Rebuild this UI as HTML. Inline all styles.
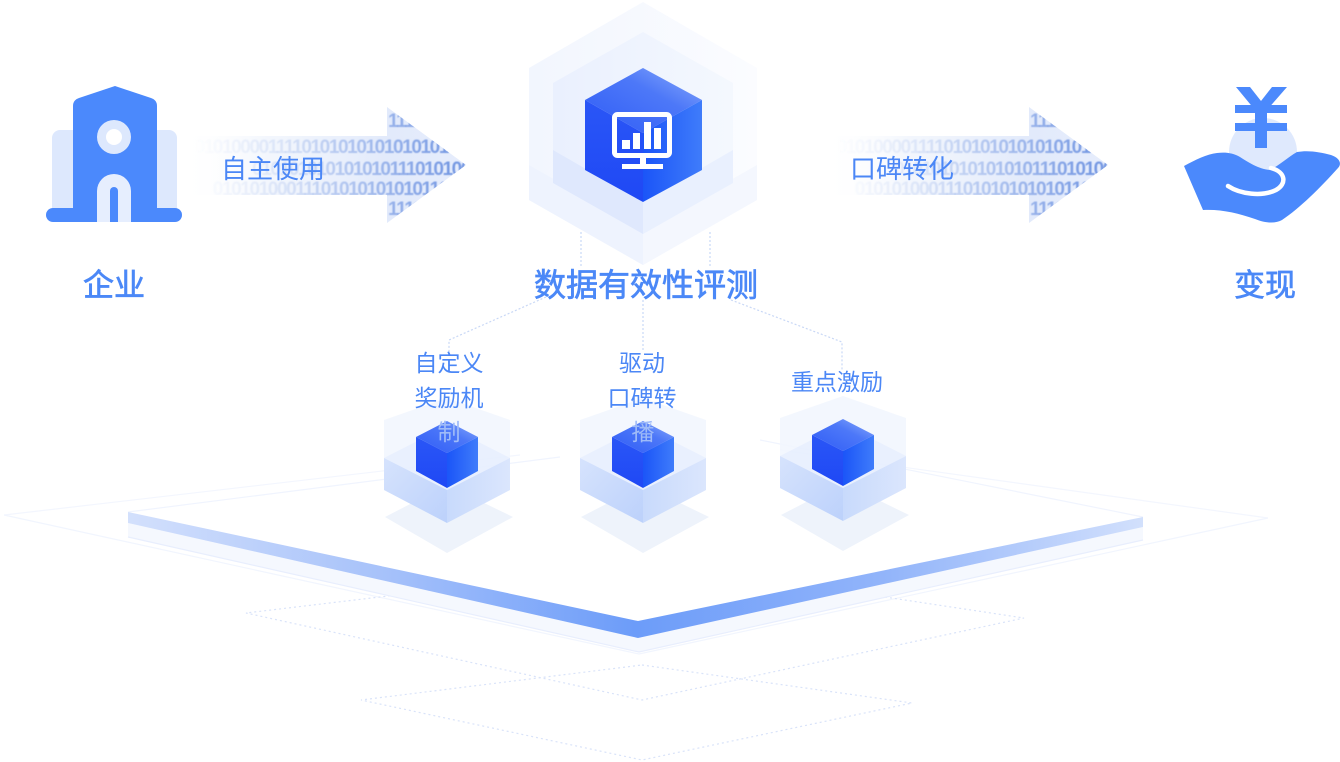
<!DOCTYPE html>
<html><head><meta charset="utf-8">
<style>
html,body{margin:0;padding:0;background:#fff;width:1340px;height:762px;overflow:hidden}
svg{display:block}
text{font-family:"Liberation Sans","Noto Sans CJK SC",sans-serif}
</style></head>
<body>
<svg width="1340" height="762" viewBox="0 0 1340 762" xmlns="http://www.w3.org/2000/svg">
<defs>
  <linearGradient id="barG" gradientUnits="userSpaceOnUse" x1="128" y1="0" x2="1143" y2="0">
    <stop offset="0" stop-color="#d3e0fc"/>
    <stop offset="0.25" stop-color="#a7c2fa"/>
    <stop offset="0.5" stop-color="#6c9cf9"/>
    <stop offset="0.75" stop-color="#93b5fa"/>
    <stop offset="1" stop-color="#d2e0fc"/>
  </linearGradient>
  <linearGradient id="arBg" gradientUnits="userSpaceOnUse" x1="180" y1="0" x2="466" y2="0">
    <stop offset="0" stop-color="#ffffff" stop-opacity="0"/>
    <stop offset="0.3" stop-color="#eef3fc" stop-opacity="0.7"/>
    <stop offset="0.72" stop-color="#e2eafb"/>
    <stop offset="1" stop-color="#e6edfc"/>
  </linearGradient>
  <linearGradient id="digG" gradientUnits="userSpaceOnUse" x1="195" y1="0" x2="450" y2="0">
    <stop offset="0" stop-color="#6a90e0" stop-opacity="0"/>
    <stop offset="0.35" stop-color="#6a90e0" stop-opacity="0.18"/>
    <stop offset="0.7" stop-color="#6a90e0" stop-opacity="0.55"/>
    <stop offset="1" stop-color="#6a90e0" stop-opacity="0.9"/>
  </linearGradient>
  <clipPath id="arClip">
    <polygon points="180,136 387,136 387,107 466,165 387,223 387,195 180,195"/>
  </clipPath>
  <filter id="blur" x="-5%" y="-10%" width="110%" height="120%">
    <feGaussianBlur stdDeviation="0.6"/>
  </filter>
  <linearGradient id="outerHex" x1="0" y1="0" x2="1" y2="0">
    <stop offset="0" stop-color="#f2f6fe"/>
    <stop offset="1" stop-color="#fbfcff"/>
  </linearGradient>
  <linearGradient id="midHex" x1="0" y1="0" x2="1" y2="0">
    <stop offset="0" stop-color="#eaf0fe"/>
    <stop offset="1" stop-color="#f4f8fe"/>
  </linearGradient>
  <linearGradient id="topF" x1="0" y1="1" x2="1" y2="0">
    <stop offset="0" stop-color="#2f5cf6"/>
    <stop offset="0.6" stop-color="#4d78f8"/>
    <stop offset="1" stop-color="#8eaefb"/>
  </linearGradient>
  <linearGradient id="leftF" x1="0" y1="0" x2="0" y2="1">
    <stop offset="0" stop-color="#2a56f6"/>
    <stop offset="1" stop-color="#1f48f5"/>
  </linearGradient>
  <linearGradient id="rightF" x1="0" y1="0" x2="1" y2="0">
    <stop offset="0" stop-color="#1b55f8"/>
    <stop offset="1" stop-color="#3f7cfa"/>
  </linearGradient>
  <linearGradient id="boxL" x1="0" y1="0" x2="1" y2="1">
    <stop offset="0" stop-color="#d6e3fd"/>
    <stop offset="1" stop-color="#bcd1fb"/>
  </linearGradient>
  <linearGradient id="boxR" x1="0" y1="0" x2="1" y2="0">
    <stop offset="0" stop-color="#c8dafc"/>
    <stop offset="1" stop-color="#dbe6fd"/>
  </linearGradient>

  <g id="smallCube">
    <polygon points="-62,517 0,485 66,517 0,553" fill="#eef3fb"/>
    <polygon points="0,398 63,420 63,490 0,523 -63,490 -63,420" fill="#f1f6fe" fill-opacity="0.85"/>
    <polygon points="-63,458 0,426 63,458 0,490" fill="#e4edfd" fill-opacity="0.7"/>
    <polygon points="-63,458 0,490 0,523 -63,490" fill="url(#boxL)"/>
    <polygon points="0,490 63,458 63,490 0,523" fill="url(#boxR)"/>
    <polygon points="-31,437 0,421 31,437 0,453" fill="url(#topF)"/>
    <polygon points="-31,437 0,453 0,488 -31,471" fill="url(#leftF)"/>
    <polygon points="0,453 31,437 31,471 0,488" fill="url(#rightF)"/>
  </g>

  <g id="arrow">
    <polygon points="180,136 387,136 387,107 466,165 387,223 387,195 180,195" fill="url(#arBg)"/>
    <g clip-path="url(#arClip)">
      <g filter="url(#blur)" fill="url(#digG)" font-weight="bold" font-size="19" letter-spacing="-1.4">
        <text x="388" y="127">1111</text>
        <text x="448" y="153" text-anchor="end">10101000011110101010101010101</text>
        <text x="470" y="175" text-anchor="end">010101010101010111010100</text>
        <text x="448" y="195" text-anchor="end">01010100011101010101010110</text>
        <text x="388" y="215">1111</text>
      </g>
    </g>
  </g>
</defs>

<!-- platform faint lines -->
<g fill="none" stroke-width="1.2">
  <polyline points="4,515 520,455" stroke="#f3f6fe"/>
  <polyline points="128,512 560,457" stroke="#f0f4fe"/>
  <polyline points="1268,518 780,450" stroke="#f3f6fe"/>
  <polyline points="1143,517 760,440" stroke="#f0f4fe"/>
  <polyline points="4,515 639,654 1268,518" stroke="#f1f5fe"/>
</g>

<!-- dotted diamonds -->
<g fill="none" stroke="#d9e3f9" stroke-width="1.2" stroke-dasharray="2 3">
  <polyline points="430,591 246,613 642,700 1024,618 845,591"/>
  <polygon points="642,665 912,703 642,760 361,700"/>
</g>

<!-- side band under bar -->
<polygon points="128,523 638,638 1143,527 1143,540 639,652 128,537" fill="#f5f8fe"/>
<polyline points="128,537 639,652 1143,540" fill="none" stroke="#e8eefd" stroke-width="1.2"/>

<!-- bar -->
<polygon points="128,512 638,621 1143,517 1143,527 638,638 128,523" fill="url(#barG)"/>

<!-- small cubes -->
<use href="#smallCube" transform="translate(447,0)"/>
<use href="#smallCube" transform="translate(643,0)"/>
<use href="#smallCube" transform="translate(843,-2)"/>

<!-- dotted connectors -->
<g fill="none" stroke="#c9d8f6" stroke-width="1.2" stroke-dasharray="2 2">
  <line x1="581" y1="232" x2="581" y2="268"/>
  <line x1="710" y1="232" x2="710" y2="268"/>
  <line x1="643" y1="300" x2="643" y2="350"/>
  <polyline points="546,297 449,340 449,352"/>
  <polyline points="731,300 842,342 842,370"/>
</g>

<!-- sub labels -->
<g font-size="23" fill="#4b87f6" text-anchor="middle">
  <text x="449" y="371">自定义</text>
  <text x="449" y="406">奖励机</text>
  <text x="449" y="440" fill="#9fbbf8">制</text>
  <text x="642" y="371">驱动</text>
  <text x="642" y="406">口碑转</text>
  <text x="643" y="440" fill="#9fbbf8">播</text>
  <text x="837" y="390">重点激励</text>
</g>

<!-- center hex -->
<polygon points="643,2 757,68 757,200 643,265 529,200 529,68" fill="url(#outerHex)"/>
<polygon points="529,165 643,230 643,265 529,200" fill="#eef3fe"/>
<polygon points="643,230 757,165 757,200 643,265" fill="#f4f7fe"/>
<polygon points="643,32 733,83 733,183 643,234 553,183 553,83" fill="url(#midHex)"/>
<polygon points="553,150 643,202 643,234 553,183" fill="#dfe8fd"/>
<polygon points="643,202 733,150 733,183 643,234" fill="#e9f0fe"/>
<polygon points="585,100 643,68 702,100 643,133" fill="url(#topF)"/>
<polygon points="585,100 643,133 643,202 585,170" fill="url(#leftF)"/>
<polygon points="643,133 702,100 702,170 643,202" fill="url(#rightF)"/>

<!-- monitor icon -->
<rect x="614.5" y="114.5" width="55" height="41" rx="3" fill="none" stroke="#fff" stroke-width="5"/>
<g fill="#fff">
  <rect x="622" y="140" width="8" height="9"/>
  <rect x="633" y="133" width="7" height="16"/>
  <rect x="644" y="122" width="7" height="27"/>
  <rect x="654" y="128" width="7" height="21"/>
  <rect x="640" y="157" width="6" height="8"/>
  <rect x="622" y="164" width="41" height="5"/>
</g>

<!-- arrows -->
<use href="#arrow"/>
<use href="#arrow" transform="translate(642,0)"/>

<!-- arrow labels -->
<text x="221" y="178" font-size="26" fill="#4b87f6">自主使用</text>
<text x="850" y="178" font-size="26" fill="#4b87f6">口碑转化</text>

<!-- titles -->
<g fill="#4b88f7" stroke="#4b88f7" stroke-width="0.7" text-anchor="middle">
  <text x="114" y="296" font-size="31">企业</text>
  <text x="646" y="296" font-size="32">数据有效性评测</text>
  <text x="1265" y="296" font-size="31">变现</text>
</g>

<!-- building icon -->
<rect x="52" y="130" width="125" height="85" rx="8" fill="#dde8fd"/>
<path d="M73,106 Q73,100 79,98 L115,86 L151,98 Q157,100 157,106 L157,222 L73,222 Z" fill="#4b89fc"/>
<rect x="46" y="208" width="136" height="14" rx="7" fill="#4b89fc"/>
<circle cx="114" cy="137" r="17" fill="#dde8fd"/>
<circle cx="114" cy="137" r="8" fill="#fff"/>
<path d="M97,222 L97,191 A17,17 0 0 1 131,191 L131,222 Z" fill="#e6eefe"/>
<path d="M110,222 L110,191 A4,4 0 0 1 118,191 L118,222 Z" fill="#4b89fc"/>

<!-- hand icon -->
<circle cx="1263" cy="152" r="34" fill="#dfe9fd"/>
<polygon points="1236,87 1250,87 1261,101 1272,87 1287,87 1267,110 1267,148 1255,148 1255,110" fill="#4b89fc"/>
<rect x="1235" y="105" width="52" height="8" fill="#4b89fc"/>
<rect x="1235" y="123" width="52" height="8" fill="#4b89fc"/>
<path d="M1184,166 C1195,160 1207,154 1217,153 C1226,152 1233,153 1240,157 C1248,162 1258,169 1270,170 C1280,165 1288,157 1297,152 C1308,150 1320,152 1331,155 C1340,158 1342,164 1338,168 C1320,188 1300,208 1282,220 C1275,224 1265,223 1255,219 C1238,213 1220,209 1203,210 Z" fill="#4b89fc"/>
<path d="M1228,186 C1240,194 1262,197 1276,190 C1287,184 1286,172 1271,168" fill="none" stroke="#fff" stroke-width="4.5" stroke-linecap="round"/>
</svg>
</body></html>
